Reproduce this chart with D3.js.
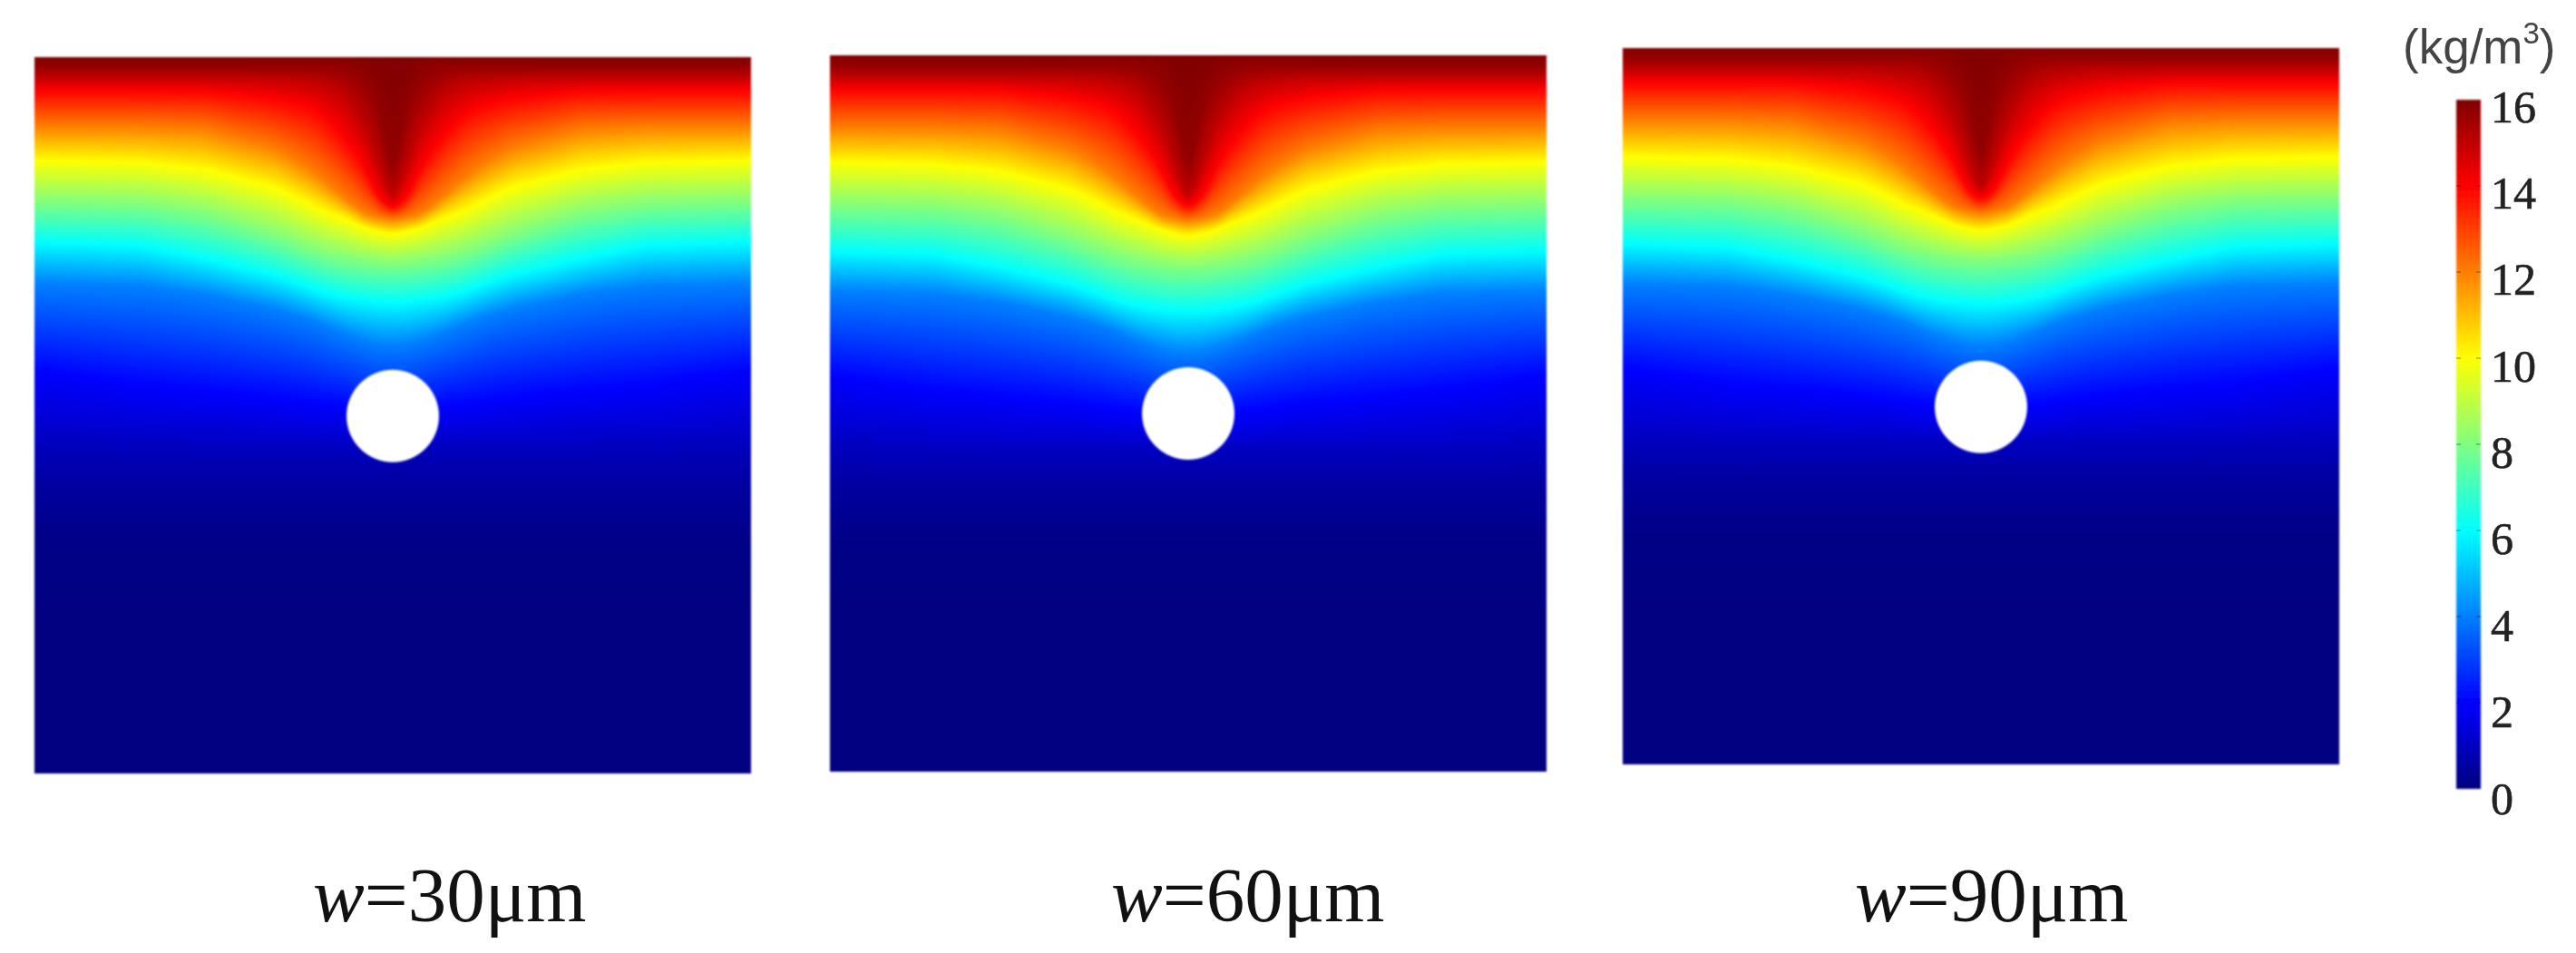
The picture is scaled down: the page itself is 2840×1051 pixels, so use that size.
<!DOCTYPE html>
<html><head><meta charset="utf-8">
<script src="https://cdn.jsdelivr.net/npm/d3@7"></script>
<style>
html,body{margin:0;padding:0;background:#fff;width:2840px;height:1051px;overflow:hidden}
canvas{position:absolute;filter:blur(1.3px)}
svg{position:absolute;left:0;top:0}
</style></head><body>
<div id="stage"></div>
<script>
// ---- data ----
const panelWidths = [30, 60, 90];               // w in µm
const valueTicks = [0, 2, 4, 6, 8, 10, 12, 14, 16];
const jetValues = [0, 2, 6, 10, 14, 16];        // kg/m3
const jetColors = ["#000080", "#0000ff", "#00ffff", "#ffff00", "#ff0000", "#800000"];
// distance from the symmetry axis, % of panel width
const axisDistance = [0, 1, 2.2, 4.1, 7, 10.1, 12.2, 16.6, 26.3, 35.4, 50];
// concentration levels and, for each, its depth (% of panel height) at every axisDistance
const levels = [16, 15.7, 15, 14, 12, 10, 8, 6, 4, 2, 1, 0.5, 0.1, 0];
const levelDepth = [
  [-.6,-.6,-.6,-.6,-.6,-.6,-.6,-.6,-.6,-.6,-.6],
  [17.3,12.7,5.7,2.8,1.4,1.3,1.3,1.3,1.3,1.3,1.3],
  [20.5,18,14.3,9.1,4.8,3.5,3.2,2.9,2.8,2.8,2.8],
  [21.3,20.5,19.5,15.2,11,7.8,6.8,5.7,4.7,4.7,4.7],
  [22.8,22.5,22.3,21.8,19.5,16.8,15.2,12.7,10.1,9.7,9.7],
  [24.7,24.6,24.3,23.8,22.5,21.4,20.3,18.2,15.7,14.7,14.4],
  [28.9,28.9,28.8,28.6,28.1,27.3,26.6,24.9,21.9,20.6,20.3],
  [34.2,34.2,34.1,33.9,33.5,32.7,31.9,30.4,28.1,26.3,25.8],
  [40.3,40.2,40.1,39.6,38.6,37.3,36.5,35.2,33.2,32,31.6],
  [50,50,50,49.6,48.7,48.4,48.1,47.5,46.6,45.8,43.7],
  [54.4,54.4,54.4,54.4,54.4,54.4,54.4,54.4,54.4,54.2,53.8],
  [59.5,59.5,59.5,59.5,59.5,59.5,59.5,59.5,59.5,59.5,59.5],
  [68,68,68,68,68,68,68,68,68,68,68],
  [78.5,78.5,78.5,78.5,78.5,78.5,78.5,78.5,78.5,78.5,78.5]
];
// small per-panel depth shift of each level (% of panel height)
const levelShift30 = [0,0,0,0,0,0,0,0,0,0,0,0,0,0];
const levelShift60 = [0,.2,.2,.1,.4,.5,.8,1.5,1.3,1,.8,.5,0,0];
const levelShift90 = [0,0,.2,.1,.4,.8,.9,1.5,1.3,1,.8,.5,0,0];
const levelShifts = [levelShift30, levelShift60, levelShift90];
const holeDepth = [50.1, 50, 50.1];             // % of panel height
const holeRadius = 6.45;                        // % of panel width

// ---- layout ----
const panelLeft = [38, 915, 1789], panelTop = [63, 61, 53], panelSize = 790;
const labelLeft = [345, 1225, 2045], labelBase = 1016;
const bar = {x: 2708, w: 27, top: 110, bottom: 870};
const labelTop = 118, labelBottom = 881;

const color = d3.scaleLinear().domain(jetValues).range(jetColors).clamp(true);
const lut = d3.range(1601).map(i => d3.rgb(color(i / 100)));

const stage = d3.select("#stage");
const smooth = (arr, r) => arr.map((_, i) => {
  let s = 0;
  for (let k = -r; k <= r; k++) s += arr[Math.abs(i + k) >= arr.length ? arr.length - 1 : Math.abs(i + k)];
  return s / (2 * r + 1);
});

panelWidths.forEach((w, p) => {
  const x = d3.scaleLinear().domain([-50, 50]).range([0, panelSize]);
  const y = d3.scaleLinear().domain([0, 100]).range([0, panelSize]);
  const half = panelSize / 2 + 1;
  // depth of each level at each pixel distance from the axis
  const profiles = levelDepth.map((row, l) => {
    const s = d3.scaleLinear().domain(axisDistance).range(row);
    const raw = d3.range(half).map(i => s(Math.abs(x.invert(panelSize / 2 + i))) + levelShifts[p][l]);
    return smooth(smooth(raw, 6), 6);
  });
  const canvas = stage.append("canvas")
    .attr("width", panelSize).attr("height", panelSize)
    .style("left", panelLeft[p] + "px").style("top", panelTop[p] + "px").node();
  const ctx = canvas.getContext("2d");
  const img = ctx.createImageData(panelSize, panelSize);
  for (let c = 0; c < panelSize; c++) {
    const d = Math.min(half - 1, Math.round(Math.abs(c + .5 - panelSize / 2)));
    const scale = d3.scaleLinear().domain(profiles.map(a => y(a[d]))).range(levels).clamp(true);
    for (let r = 0; r < panelSize; r++) {
      const col = lut[Math.round(scale(r + .5) * 100)];
      const k = (r * panelSize + c) * 4;
      img.data[k] = col.r; img.data[k + 1] = col.g; img.data[k + 2] = col.b; img.data[k + 3] = 255;
    }
  }
  ctx.putImageData(img, 0, 0);
});

const svg = stage.append("svg").attr("width", 2840).attr("height", 1051);
const defs = svg.append("defs");
defs.append("filter").attr("id", "soft").append("feGaussianBlur").attr("stdDeviation", 1.2);
const grad = defs.append("linearGradient").attr("id", "jet").attr("x1", 0).attr("x2", 0).attr("y1", 1).attr("y2", 0);
grad.selectAll("stop").data(jetValues).join("stop")
  .attr("offset", d => d / 16).attr("stop-color", d => color(d));

// holes
svg.selectAll("circle.hole").data(panelWidths).join("circle").attr("class", "hole")
  .attr("cx", (d, i) => d3.scaleLinear().domain([-50, 50]).range([panelLeft[i], panelLeft[i] + panelSize])(0))
  .attr("cy", (d, i) => d3.scaleLinear().domain([0, 100]).range([panelTop[i], panelTop[i] + panelSize])(holeDepth[i]))
  .attr("r", holeRadius / 100 * panelSize)
  .attr("fill", "#fff").attr("filter", "url(#soft)");

// panel captions
const caption = svg.selectAll("text.caption").data(panelWidths).join("text").attr("class", "caption")
  .attr("x", (d, i) => labelLeft[i]).attr("y", labelBase)
  .attr("font-family", "Liberation Serif").attr("font-size", 85).attr("fill", "#111");
caption.append("tspan").attr("font-style", "italic").text("w");
caption.append("tspan").text(d => "=" + d + "μm");

// colour bar
const barScale = d3.scaleLinear().domain([0, 16]).range([bar.bottom, bar.top]);
svg.append("rect").attr("x", bar.x).attr("y", bar.top).attr("width", bar.w)
  .attr("height", bar.bottom - bar.top).attr("fill", "url(#jet)").attr("filter", "url(#soft)");
svg.selectAll("g.mark").data(valueTicks.slice(1, -1)).join("g").attr("class", "mark")
  .each(function (d) {
    [bar.x, bar.x + bar.w - 5].forEach(x0 => d3.select(this).append("line")
      .attr("x1", x0).attr("x2", x0 + 5).attr("y1", barScale(d)).attr("y2", barScale(d))
      .attr("stroke", "#000").attr("stroke-opacity", .3).attr("stroke-width", 1.5));
  });
const labelScale = d3.scaleLinear().domain([0, 16]).range([labelBottom, labelTop]);
const axis = svg.append("g").attr("transform", "translate(2746,0)")
  .call(d3.axisRight(labelScale).tickValues(valueTicks).tickSize(0).tickPadding(0));
axis.select(".domain").remove();
axis.selectAll("text").attr("font-family", "Liberation Serif").attr("font-size", 50)
  .attr("fill", "#222").attr("stroke", "#222").attr("stroke-width", .6);
axis.attr("font-family", null).attr("font-size", null);

// unit
const unit = svg.append("text").attr("x", 2649).attr("y", 70)
  .attr("font-family", "Liberation Sans").attr("font-size", 53).attr("fill", "#444");
unit.append("tspan").text("(kg/m");
unit.append("tspan").attr("font-size", 33).attr("dy", -22).text("3");
unit.append("tspan").attr("dy", 22).text(")");
</script>
</body></html>
